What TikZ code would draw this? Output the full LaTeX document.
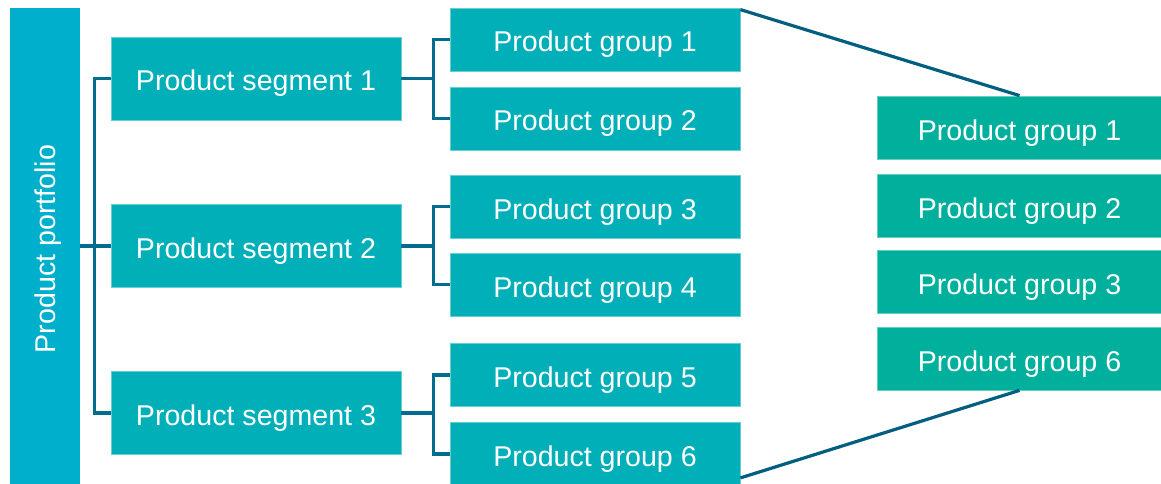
\documentclass[tikz,border=0pt]{standalone}
\usepackage{fontspec}
\setmainfont{Liberation Sans}
\usetikzlibrary{calc}
\definecolor{barblue}{HTML}{00AFCB}
\definecolor{boxteal}{HTML}{00AFB8}
\definecolor{boxgreen}{HTML}{00AF9C}
\definecolor{linkcol}{HTML}{006D8E}
\definecolor{slantcol}{HTML}{005E80}
\tikzset{
  lbl/.style={text=white, font=\fontsize{28.6}{32}\selectfont, inner sep=0pt,
    text height=25pt, text depth=0pt},
  segbox/.style={lbl, fill=boxteal, draw=boxteal!60!white, line width=0.8pt,
    minimum width=290pt, minimum height=83pt},
  grpbox/.style={lbl, fill=boxteal, draw=boxteal!60!white, line width=0.8pt,
    minimum width=290pt, minimum height=63pt},
  selbox/.style={lbl, fill=boxgreen, draw=boxgreen!60!white, line width=0.8pt,
    minimum width=285pt, minimum height=63pt},
  link/.style={draw=linkcol, line width=3.2pt},
  zoomline/.style={draw=slantcol, line width=3.2pt}
}
\begin{document}
\begin{tikzpicture}[x=1pt, y=-1pt]
\useasboundingbox (0,0) rectangle (1161,484);
\clip (0,0) rectangle (1161,484);

% portfolio bar
\node[text=white, font=\fontsize{28.6}{32}\selectfont, inner sep=0pt,
  fill=barblue, minimum width=70pt, minimum height=482pt] (bar) at (45,249)
  {\hspace*{6pt}\rotatebox{90}{Product portfolio}};

% segments
\node[segbox] (s1) at (256,78.5) {Product segment 1};
\node[segbox] (s2) at (256,246) {Product segment 2};
\node[segbox] (s3) at (256,413) {Product segment 3};

% product groups
\node[grpbox] (g1) at (595,39.5) {Product group 1};
\node[grpbox] (g2) at (595,118.5) {Product group 2};
\node[grpbox] (g3) at (595,206.5) {Product group 3};
\node[grpbox] (g4) at (595,284.5) {Product group 4};
\node[grpbox] (g5) at (595,375) {Product group 5};
\node[grpbox] (g6) at (595,454) {Product group 6};

% selected groups
\node[selbox] (r1) at (1019.5,127.5) {Product group 1};
\node[selbox] (r2) at (1019.5,205.5) {Product group 2};
\node[selbox] (r3) at (1019.5,282) {Product group 3};
\node[selbox] (r6) at (1019.5,358.5) {Product group 6};

% portfolio to segments
\path (s1.west) ++(-16,0) coordinate (tp);
\draw[link] (bar.east |- s2.west) -- (s2.west);
\draw[link] (s1.west) -- (tp) -- (tp |- s3.west) -- (s3.west);

% segments to groups
\foreach \s/\a/\b in {s1/g1/g2, s2/g3/g4, s3/g5/g6}{
  \path (\a.west) ++(-16,0) coordinate (br);
  \draw[link] (\s.east) -- (\s.east -| br);
  \draw[link] (\a.west) -- (br) -- (br |- \b.west) -- (\b.west);
}

% zoom lines to the selection
\draw[zoomline] ($(g1.north east)+(0,2)$) -- (r1.north);
\draw[zoomline] ($(g6.south east)+(0,-8)$) -- (r6.south);
\end{tikzpicture}
\end{document}
